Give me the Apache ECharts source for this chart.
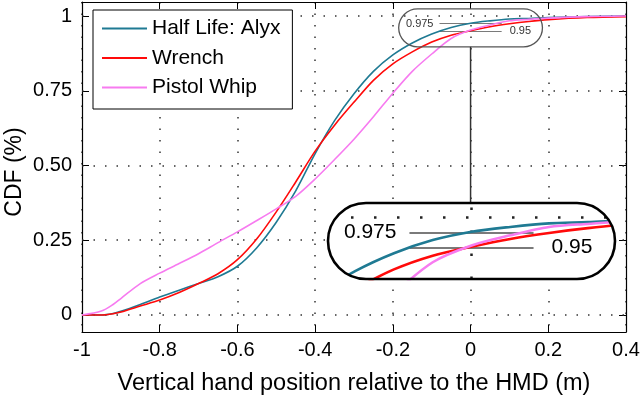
<!DOCTYPE html>
<html>
<head>
<meta charset="utf-8">
<script src="https://cdn.jsdelivr.net/npm/echarts@6/dist/echarts.min.js"></script>
<style>
  html, body { margin: 0; padding: 0; background: #fff; }
  #chart { width: 640px; height: 397px; }
</style>
</head>
<body>
<div id="chart"></div>
<script>
// x positions shared by the three CDF curves
const xPos = [-1, -0.95, -0.92, -0.9, -0.85, -0.8, -0.75, -0.7, -0.65, -0.6, -0.55, -0.5, -0.45, -0.4,
  -0.35, -0.3, -0.25, -0.2, -0.15, -0.1, -0.05, 0, 0.05, 0.1, 0.15, 0.2, 0.3, 0.4]

const alyx = [0, 0, 0.005, 0.012, 0.035, 0.06, 0.083, 0.105, 0.128, 0.163, 0.225, 0.31, 0.415, 0.54,
  0.65, 0.74, 0.815, 0.87, 0.91, 0.94, 0.962, 0.976, 0.984, 0.99, 0.992, 0.995, 0.998, 1.0]
const wrench = [0, 0, 0.004, 0.01, 0.03, 0.05, 0.075, 0.105, 0.138, 0.185, 0.255, 0.345, 0.445, 0.548,
  0.635, 0.712, 0.785, 0.84, 0.88, 0.913, 0.936, 0.951, 0.964, 0.974, 0.982, 0.988, 0.995, 0.998]
const pistol = [0, 0.013, 0.035, 0.055, 0.105, 0.14, 0.172, 0.205, 0.242, 0.278, 0.316, 0.355, 0.397, 0.455,
  0.52, 0.588, 0.663, 0.742, 0.815, 0.873, 0.925, 0.953, 0.97, 0.984, 0.989, 0.993, 0.998, 1.0]

const seriesNames = ['Half Life: Alyx', 'Wrench', 'Pistol Whip']
const yTicks = [0, 0.25, 0.5, 0.75, 1]
const yTickLabels = ['0', '0.25', '0.50', '0.75', '1']
const yTitle = 'CDF (%)'

// magnified region and the two reference levels drawn in it
const zoomX = [-0.185, 0.185]
const zoomY = [0.897, 1.024]
const guideLevels = [0.975, 0.95]
const guideLabels = ['0.975', '0.95']
const guideSpan = [-0.08, 0.08]

const FONT = 'Liberation Sans, Arial, Helvetica, sans-serif'
const colors = ['#1f7a93', '#ff0a0a', '#f77bf0']
const values = [alyx, wrench, pistol]
const inset = { left: 328, top: 203, width: 287, height: 76 }

const pairs = (ys) => xPos.map((x, i) => [x, ys[i]])

const dotted = { type: [1.5, 10], color: '#333', width: 1.5 }
const bigDotted = { type: [2.5, 20.5], color: '#222', width: 2.5 }

const guideLines = (fontSize, d1, d2, width) => guideLevels.map((lv, i) => [
  {
    coord: [guideSpan[0], lv],
    lineStyle: { color: '#7a7a7a', width: width, type: 'solid' },
    label: {
      show: true,
      position: i === 0 ? 'start' : 'end',
      formatter: guideLabels[i],
      fontSize: fontSize,
      fontFamily: FONT,
      color: fontSize > 15 ? '#000' : '#333',
      distance: i === 0 ? d1 : d2
    }
  },
  { coord: [guideSpan[1], lv] }
])

const mainSeries = values.map((v, i) => ({
  name: seriesNames[i],
  type: 'line',
  xAxisIndex: 0,
  yAxisIndex: 0,
  data: pairs(v),
  smooth: 0.3,
  symbol: 'none',
  z: 2,
  lineStyle: { color: colors[i], width: 1.6 },
  itemStyle: { color: colors[i] },
  markLine: i === 0 ? {
    silent: true,
    z: 1,
    symbol: ['none', 'none'],
    label: { show: false },
    data: yTicks.map(t => ({ yAxis: t, lineStyle: dotted })).concat(guideLines(11, 6, 8, 1.2))
  } : undefined
}))

const insetSeries = values.map((v, i) => ({
  name: seriesNames[i],
  type: 'line',
  xAxisIndex: 2,
  yAxisIndex: 2,
  data: pairs(v),
  smooth: 0.3,
  symbol: 'none',
  z: 10,
  lineStyle: { color: colors[i], width: 2.6 },
  itemStyle: { color: colors[i] },
  markLine: i === 0 ? {
    silent: true,
    z: 9,
    symbol: ['none', 'none'],
    label: { show: false },
    data: [{ yAxis: 1, lineStyle: bigDotted }, { xAxis: 0, lineStyle: bigDotted }]
      .concat(guideLines(21, 13, 18, 1.8))
  } : undefined
}))

const tickLabel = (v) => {
  const i = yTicks.findIndex(t => Math.abs(t - v) < 1e-6)
  return i >= 0 ? yTickLabels[i] : ''
}

const frameLine = { show: true, onZero: false, lineStyle: { color: '#000', width: 1.2 } }
const frameTick = { show: true, inside: true, length: 7, lineStyle: { color: '#000', width: 1 } }

const option = {
  animation: false,
  textStyle: { fontFamily: FONT },
  grid: [
    { left: 82, right: 14, top: 2, bottom: 65, outerBoundsMode: 'none', containLabel: false },
    { left: inset.left, top: inset.top, width: inset.width, height: inset.height, outerBoundsMode: 'none' }
  ],
  legend: {
    orient: 'vertical',
    left: 93,
    top: 10,
    icon: 'rect',
    itemWidth: 45,
    itemHeight: 2,
    itemGap: 8.5,
    padding: [8, 12, 11, 9],
    borderColor: '#000',
    borderWidth: 1,
    backgroundColor: '#fff',
    selectedMode: false,
    data: seriesNames,
    textStyle: { fontSize: 21, lineHeight: 21, color: '#000', fontFamily: FONT }
  },
  xAxis: [
    {
      type: 'value', gridIndex: 0, min: -1, max: 0.4, interval: 0.2, position: 'bottom',
      axisLine: frameLine, axisTick: frameTick,
      axisLabel: {
        fontSize: 20, color: '#000', margin: 8, fontFamily: FONT,
        formatter: v => String(Math.round(v * 10) / 10)
      },
      splitLine: { show: true, lineStyle: dotted },
      name: 'Vertical hand position relative to the HMD (m)',
      nameLocation: 'middle',
      nameGap: 40,
      nameMoveOverlap: false,
      nameTextStyle: { fontSize: 23.5, color: '#000', fontFamily: FONT }
    },
    {
      type: 'value', gridIndex: 0, min: -1, max: 0.4, interval: 0.2, position: 'top',
      axisLine: frameLine, axisTick: frameTick,
      axisLabel: { show: false }, splitLine: { show: false }
    },
    { type: 'value', gridIndex: 1, min: zoomX[0], max: zoomX[1], show: false }
  ],
  yAxis: [
    {
      type: 'value', gridIndex: 0, min: -0.057, max: 1.047, position: 'left',
      axisLine: frameLine,
      axisTick: Object.assign({ customValues: yTicks }, frameTick),
      axisLabel: {
        customValues: yTicks, fontSize: 20, color: '#000', margin: 10, fontFamily: FONT,
        formatter: tickLabel
      },
      splitLine: { show: false }
    },
    {
      type: 'value', gridIndex: 0, min: -0.057, max: 1.047, position: 'right',
      axisLine: frameLine,
      axisTick: Object.assign({ customValues: yTicks }, frameTick),
      axisLabel: { show: false }, splitLine: { show: false }
    },
    { type: 'value', gridIndex: 1, min: zoomY[0], max: zoomY[1], show: false }
  ],
  series: mainSeries.concat(insetSeries)
}

const chart = echarts.init(document.getElementById('chart'))
chart.setOption(option)

// annotation shapes: small marker round the zoomed area, connector, magnified inset frame
const a = chart.convertToPixel({ gridIndex: 0 }, [zoomX[0], zoomY[1]])
const b = chart.convertToPixel({ gridIndex: 0 }, [zoomX[1], zoomY[0]])
const mid = chart.convertToPixel({ gridIndex: 0 }, [0, zoomY[0]])

const L = inset.left, T = inset.top, W = inset.width, H = inset.height, r = H / 2
const arc = (cx, from, to) => {
  const pts = []
  for (let k = 0; k <= 24; k++) {
    const t = (from + (to - from) * k / 24) * Math.PI / 180
    pts.push([cx + r * Math.cos(t), T + r + r * Math.sin(t)])
  }
  return pts
}
const leftMask = [[L - 3, T - 3], [L + r, T - 3]].concat(arc(L + r, -90, -270), [[L + r, T + H + 3], [L - 3, T + H + 3]])
const rightMask = [[L + W + 3, T - 3], [L + W - r, T - 3]].concat(arc(L + W - r, -90, 90), [[L + W - r, T + H + 3], [L + W + 3, T + H + 3]])

chart.setOption({
  graphic: [
    {
      type: 'text', z: 6, silent: true,
      x: 15, y: 172, rotation: Math.PI / 2,
      style: { text: yTitle, fontSize: 23, fontFamily: FONT, fill: '#000', align: 'center', verticalAlign: 'middle' }
    },
    {
      type: 'rect', z: 6, silent: true,
      shape: { x: a[0], y: a[1], width: b[0] - a[0], height: b[1] - a[1], r: (b[1] - a[1]) / 2 },
      style: { fill: 'none', stroke: '#555', lineWidth: 1.3 }
    },
    {
      type: 'line', z: 6, silent: true,
      shape: { x1: mid[0], y1: b[1], x2: mid[0], y2: T },
      style: { stroke: '#333', lineWidth: 1.5 }
    },
    {
      type: 'rect', z: 5, silent: true,
      shape: { x: L, y: T, width: W, height: H, r: r },
      style: { fill: '#fff', stroke: 'none' }
    },
    { type: 'polygon', z: 15, silent: true, shape: { points: leftMask }, style: { fill: '#fff' } },
    { type: 'polygon', z: 15, silent: true, shape: { points: rightMask }, style: { fill: '#fff' } },
    {
      type: 'rect', z: 16, silent: true,
      shape: { x: L, y: T, width: W, height: H, r: r },
      style: { fill: 'none', stroke: '#000', lineWidth: 2.6 }
    }
  ]
})
</script>
</body>
</html>
